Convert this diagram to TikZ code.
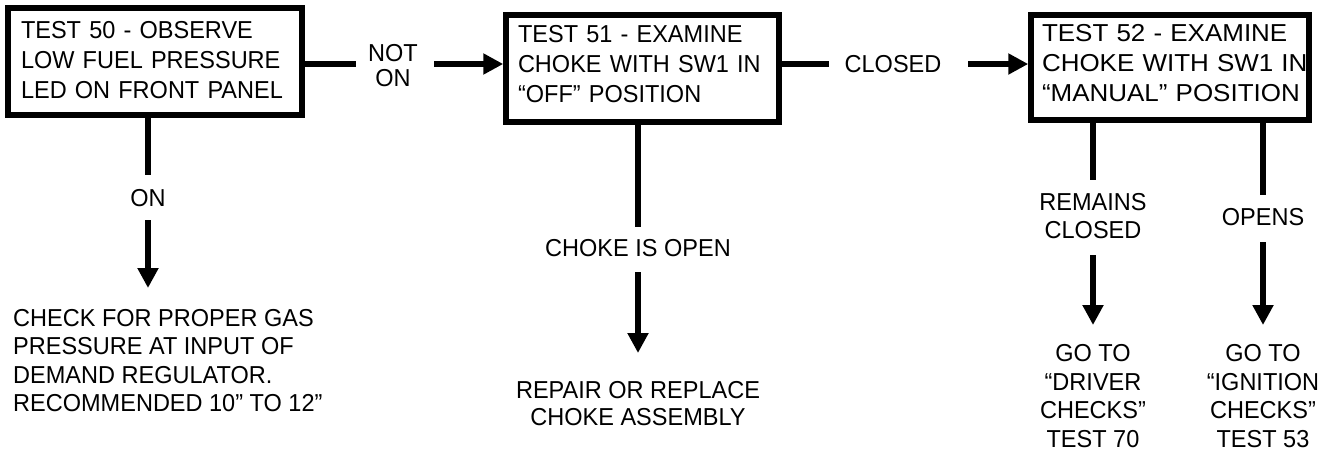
\documentclass[tikz,border=0pt]{standalone}
\usepackage{fontspec}
\setmainfont[FakeStretch=0.96]{Liberation Sans}
\newfontfamily\widefont[FakeStretch=1.06]{Liberation Sans}
\usetikzlibrary{arrows.meta}
\newcommand\lastdp[1]{\rule[-#1]{0pt}{#1}}
\begin{document}
\begin{tikzpicture}[x=1pt,y=-1pt,
  lw/.style={line width=5.5pt},
  box/.style={draw,lw,inner sep=0pt,align=left,font=\fontsize{24.5}{30}\selectfont},
  lbl/.style={inner sep=0pt,align=center,font=\fontsize{24.5}{28}\selectfont},
  conn/.style={lw},
  arr/.style={lw,-{Triangle[length=20pt,width=20pt]}}]
\useasboundingbox (0,0) rectangle (1324,453);
% boxes
\node[box,minimum width=294pt,minimum height=107pt,text width=268pt] (b1) at (155,61.5)
  {TEST 50 - OBSERVE\\LOW FUEL PRESSURE\\LED ON FRONT PANEL\lastdp{4pt}};
\node[box,minimum width=273pt,minimum height=107pt,text width=249pt] (b2) at (642.5,68.5)
  {TEST 51 - EXAMINE\\CHOKE WITH SW1 IN\\“OFF” POSITION\lastdp{9pt}};
\node[box,minimum width=278pt,minimum height=105pt,text width=256pt,font=\widefont\fontsize{24.5}{30}\selectfont] (b3) at (1170,67.5)
  {\mbox{TEST 52 - EXAMINE}\\\mbox{CHOKE WITH SW1 IN}\\\mbox{“MANUAL” POSITION}\lastdp{10pt}};
% labels
\node[lbl,font=\fontsize{24.5}{25}\selectfont] (notOn) at (393,66) {NOT\\ON};
\node[lbl] (closedLbl) at (893,64) {CLOSED};
\node[lbl] (onLbl) at (148,198) {ON};
\node[lbl] (openLbl) at (638,248) {CHOKE IS OPEN};
\node[lbl] (remLbl) at (1093,216) {REMAINS\\CLOSED};
\node[lbl] (opensLbl) at (1263,217) {OPENS};
% outcomes
\node[lbl,align=left,anchor=west,font=\fontsize{24.5}{28.4}\selectfont] (check) at (13,360.5)
  {CHECK FOR PROPER GAS\\PRESSURE AT INPUT OF\\DEMAND REGULATOR.\\RECOMMENDED 10” TO 12”};
\node[lbl,font=\fontsize{24.5}{27}\selectfont] (repair) at (638,403.5) {REPAIR OR REPLACE\\CHOKE ASSEMBLY};
\node[lbl,font=\fontsize{24.5}{28.5}\selectfont] (driver) at (1093,396) {GO TO\\“DRIVER\\CHECKS”\\TEST 70};
\node[lbl,font=\fontsize{24.5}{28.5}\selectfont] (ignition) at (1263,396) {GO TO\\“IGNITION\\CHECKS”\\TEST 53};
% connector points
\coordinate (h1) at (356,64);
\coordinate (h2) at (434,64);
\coordinate (h3) at (829,64);
\coordinate (h4) at (968,64);
\coordinate (v1a) at (148,175);
\coordinate (v1b) at (148,220);
\coordinate (v1c) at (148,288);
\coordinate (v2a) at (638,227);
\coordinate (v2b) at (638,272);
\coordinate (v2c) at (638,353);
\coordinate (v3a) at (1093,180);
\coordinate (v3b) at (1093,255);
\coordinate (v3c) at (1093,325);
\coordinate (v4a) at (1263,195);
\coordinate (v4b) at (1263,242);
\coordinate (v4c) at (1263,325);
% connectors
\draw[conn] (b1.east |- h1) -- (h1);
\draw[arr] (h2) -- (b2.west |- h2);
\draw[conn] (b2.east |- h3) -- (h3);
\draw[arr] (h4) -- (b3.west |- h4);
\draw[conn] (b1.south -| v1a) -- (v1a);
\draw[arr] (v1b) -- (v1c);
\draw[conn] (b2.south -| v2a) -- (v2a);
\draw[arr] (v2b) -- (v2c);
\draw[conn] (b3.south -| v3a) -- (v3a);
\draw[arr] (v3b) -- (v3c);
\draw[conn] (b3.south -| v4a) -- (v4a);
\draw[arr] (v4b) -- (v4c);
\end{tikzpicture}
\end{document}
